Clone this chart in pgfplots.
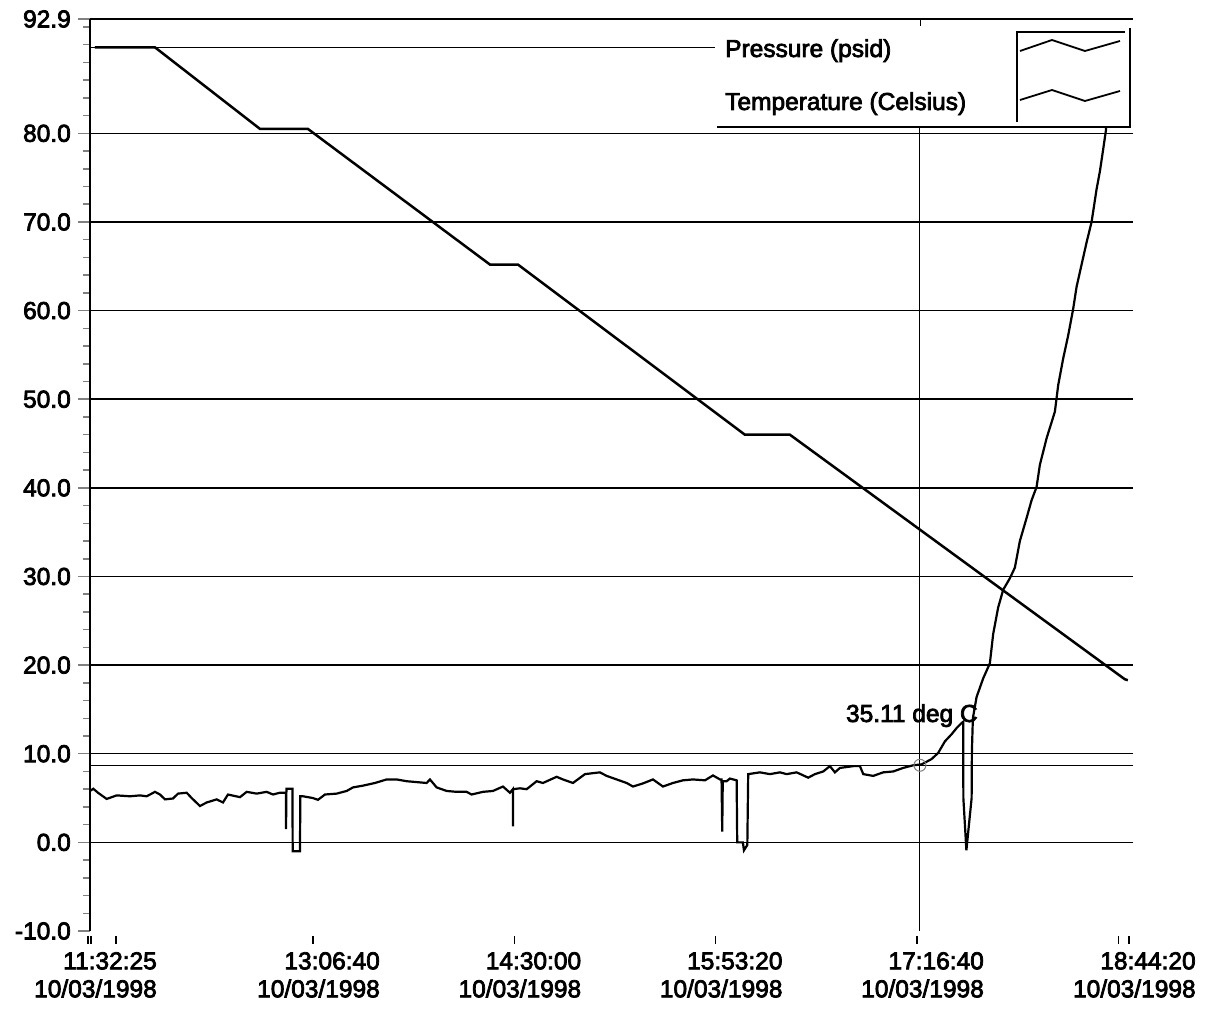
\documentclass[border=0pt]{standalone}
\usepackage{fontspec}
\setmainfont{Liberation Sans}[FakeBold=3]
\usepackage{pgfplots}
\pgfplotsset{compat=1.18}
\usepackage{pgfplotstable}

\pgfplotstableread{
t v
241 89.7
1731 89.7
4338 80.5
5528 80.5
10047 65.2
10742 65.2
16379 46.0
17496 46.0
25815 18.4
25890 18.3
}\pressure

\pgfplotstableread{
t v
117 5.8
199 6.05
315 5.6
531 4.9
780 5.3
1110 5.2
1358 5.3
1525 5.2
1731 5.7
1855 5.4
1979 4.85
2178 4.95
2302 5.5
2518 5.6
2642 5.0
2848 4.1
3014 4.5
3263 4.85
3419 4.5
3543 5.4
3841 5.1
4008 5.7
4256 5.5
4504 5.7
4661 5.4
4834 5.6
4983 5.6
4985 1.5
4995 6.05
5145 6.05
5150 -1.0
5331 -1.0
5340 5.2
5406 5.2
5654 5.0
5778 4.8
5952 5.4
6242 5.5
6491 5.8
6647 6.2
6895 6.4
7193 6.7
7484 7.1
7732 7.1
7980 6.9
8229 6.8
8477 6.7
8559 7.1
8725 6.2
8974 5.8
9222 5.7
9470 5.7
9594 5.4
9875 5.7
10123 5.8
10372 6.3
10545 5.6
10618 6.0
10620 1.8
10625 6.0
10794 6.1
10960 6.0
11208 6.9
11365 6.7
11705 7.4
11861 7.1
12110 6.7
12408 7.7
12780 7.9
12947 7.5
13195 7.1
13443 6.7
13600 6.3
13848 6.65
14097 7.1
14345 6.3
14593 6.7
14842 7.0
15090 7.1
15388 7.0
15587 7.55
15760 7.1
15800 7.1
15817 1.2
15830 6.9
15926 6.9
16008 7.2
16175 7.0
16189 0.0
16330 0.0
16356 -0.9
16440 -0.3
16462 7.7
16753 7.9
17001 7.7
17250 7.9
17416 7.7
17664 7.9
17952 7.3
18119 7.7
18325 8.0
18491 8.6
18615 7.9
18740 8.4
19070 8.6
19237 8.6
19319 7.7
19566 7.5
19815 7.9
20063 8.0
20311 8.4
20560 8.7
20768 8.8
21016 9.4
21181 10.1
21347 11.4
21513 12.2
21638 12.9
21769 13.5
21801 13.6
21805 5.0
21880 -0.9
22010 5.0
22017 10.3
22041 14.0
22133 16.4
22297 18.5
22463 20.2
22545 23.5
22669 26.5
22794 28.5
22960 29.8
23084 31.0
23208 34.0
23375 36.6
23499 38.6
23623 40.1
23705 42.6
23872 45.6
24078 48.6
24160 51.6
24284 54.6
24408 57.2
24532 60.2
24617 62.7
24741 65.2
24865 67.7
24989 70.0
25113 73.7
25195 75.7
25277 78.2
25344 80.3
25361 81.3
25493 84.0
}\temperature

\begin{document}
\begin{tikzpicture}
\useasboundingbox (-90pt,-78pt) rectangle (1118pt,931pt);
\begin{axis}[
  scale only axis, width=1043pt, height=912pt,
  xmin=117, xmax=26017, ymin=-10, ymax=92.9,
  axis lines*=left,
  x axis line style={draw=none},
  y axis line style={line width=1.5pt},
  tick align=outside,
  ytick={-10,0,10,20,30,40,50,60,70,80,92.9},
  yticklabels={-10.0,0.0,10.0,20.0,30.0,40.0,50.0,60.0,70.0,80.0,92.9},
  minor ytick={-8,-6,...,92},
  major tick length=12pt, minor tick length=7pt,
  ytick style={line width=1.5pt},
  xtick={117,5655,10655,15655,20655,25915},
  xticklabels={{11:32:25\\10/03/1998},{13:06:40\\10/03/1998},{14:30:00\\10/03/1998},{15:53:20\\10/03/1998},{17:16:40\\10/03/1998},{18:44:20\\10/03/1998}},
  xtick style={draw=none},
  xticklabel style={align=right, anchor=north east, inner sep=0pt, xshift=67pt, yshift=-9pt},
  yticklabel style={inner sep=0pt, xshift=-7pt},
  tick label style={font=\fontsize{24.5}{28}\selectfont},
  clip=false,
]
% grid and cursor lines
\pgfplotsinvokeforeach{0,10,...,80}{\draw[line width=1.5pt] (axis cs:117,#1) -- (axis cs:26017,#1);}
\draw[line width=1.5pt] (axis cs:117,92.9) -- (axis cs:26017,92.9);
\draw[line width=1.5pt] (axis cs:117,89.7) -- (axis cs:26017,89.7);
\draw[line width=1.2pt] (axis cs:117,8.7) -- (axis cs:26017,8.7);
\draw[line width=1pt] (axis cs:20726,-10) -- (axis cs:20726,80.9);
% x tick marks
\pgfplotsinvokeforeach{67,142,762,5655,10655,15655,20655,25650,25915}{
  \draw[line width=1.3pt] ([yshift=-5pt]axis cs:#1,-10) -- ([yshift=-13pt]axis cs:#1,-10);
}
\addplot[line width=2.5pt, black] table[x=t,y=v] {\pressure};
\addplot[line width=2.2pt, black] table[x=t,y=v] {\temperature};
\addplot[only marks, mark=o, mark size=6pt, gray, mark options={line width=1pt}] coordinates {(20726,8.7)};
\node[font=\fontsize{24.5}{28}\selectfont, inner sep=0pt] at (axis cs:20527,14.3) {35.11 deg C};
\end{axis}
% legend
\fill[white] (625pt,804pt) rectangle (1043pt,911pt);
\draw[line width=1.5pt] (627pt,804pt) -- (1040pt,804pt) -- (1040pt,903pt);
\draw[line width=1.4pt] (927pt,809pt) -- (927pt,899pt) -- (1035pt,899pt);
\draw[line width=1.8pt] (930pt,880pt) -- (962pt,891pt) -- (995pt,880pt) -- (1030pt,890pt);
\draw[line width=1.8pt] (930pt,831pt) -- (962pt,841pt) -- (995pt,830pt) -- (1030pt,840pt);
\node[anchor=base west, inner sep=0pt, font=\fontsize{24.5}{28}\selectfont] at (635pt,874pt) {Pressure (psid)};
\node[anchor=base west, inner sep=0pt, font=\fontsize{24.5}{28}\selectfont] at (635pt,821pt) {Temperature (Celsius)};
\draw[line width=1pt] (830pt,911pt) -- (830pt,905pt);
\end{tikzpicture}
\end{document}
